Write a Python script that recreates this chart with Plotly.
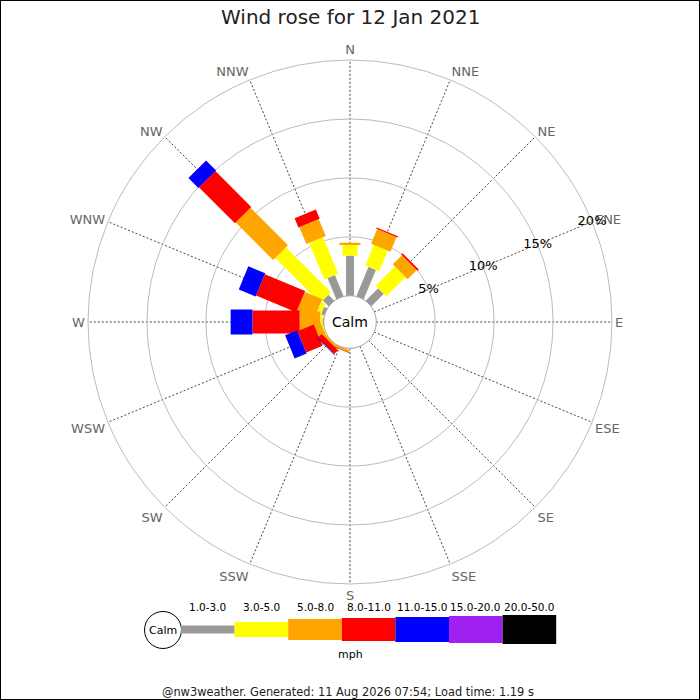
import math
import numpy as np
import plotly.graph_objects as go

# compass directions, clockwise from north
directions = ["N", "NNE", "NE", "ENE", "E", "ESE", "SE", "SSE",
              "S", "SSW", "SW", "WSW", "W", "WNW", "NW", "NNW"]
dir_angles = [i * 22.5 for i in range(16)]

speed_bins = ["1.0-3.0", "3.0-5.0", "5.0-8.0", "8.0-11.0",
              "11.0-15.0", "15.0-20.0", "20.0-50.0"]
bin_colors = ["#999999", "#ffff00", "#ffa500", "#ff0000",
              "#0000ff", "#a020f0", "#000000"]

# frequency (%) per direction for each speed bin
pct_1_3 = [3.4, 2.7, 1.5, 0, 0, 0, 0, 0, 0, 0, 0, 0, 0.1, 0.3, 0.7, 1.95]
pct_3_5 = [0.9, 1.9, 2.3, 0, 0, 0, 0, 0, 0, 0, 0, 0.1, 0.2, 0.4, 5.4, 3.35]
pct_5_8 = [0.2, 1.35, 1.1, 0, 0, 0, 0, 0, 0, 0.2, 0.2, 0.6, 1.75, 1.6, 4.5, 1.55]
pct_8_11 = [0, 0.1, 0.15, 0, 0, 0, 0, 0, 0, 0.05, 0.45, 1.5, 4.0, 3.7, 4.3, 0.85]
pct_11_15 = [0, 0, 0, 0, 0, 0, 0, 0, 0, 0, 0.05, 1.1, 1.85, 1.55, 1.2, 0]
pct_15_20 = [0] * 16
pct_20_50 = [0] * 16
all_pcts = [pct_1_3, pct_3_5, pct_5_8, pct_8_11, pct_11_15, pct_15_20, pct_20_50]

radial_ticks = [5, 10, 15, 20]
label_dir = 67.5  # radial labels sit on the ENE spoke

# leg thickness in px (rose radius is 262 px)
leg_px = [8, 15, 21, 23, 25, 27, 29]
R_PX = 262.0
HOLE = 0.1
RMAX = 20.0


def frac_from_r(r):
    return HOLE + (1 - HOLE) * r / RMAX


def r_from_frac(rho):
    return (rho - HOLE) / (1 - HOLE) * RMAX


fig = go.Figure()

# legs drawn as straight rectangles, converted into polar coords
cum = [0.0] * 16
for k, vals in enumerate(all_pcts):
    rr, tt = [], []
    half = leg_px[k] / R_PX / 2
    for i, v in enumerate(vals):
        if v <= 0:
            continue
        d0 = frac_from_r(cum[i])
        d1 = frac_from_r(cum[i] + v)
        for d, h in [(d0, -half), (d1, -half), (d1, half), (d0, half)]:
            rr.append(r_from_frac(math.hypot(d, h)))
            tt.append(dir_angles[i] + math.degrees(math.atan2(h, d)))
        rr.append(None)
        tt.append(None)
        cum[i] += v
    if rr:
        fig.add_trace(go.Scatterpolar(
            r=rr, theta=tt, mode="lines", fill="toself",
            fillcolor=bin_colors[k], line=dict(width=0, color=bin_colors[k]),
            name=speed_bins[k], hoverinfo="skip", cliponaxis=False
        ))

# calm circle outline
circ_t = np.linspace(0, 360, 181)
fig.add_trace(go.Scatterpolar(
    r=[0] * len(circ_t), theta=circ_t, mode="lines",
    line=dict(color="#aaaaaa", width=1), hoverinfo="skip", cliponaxis=False
))

# radial percentage labels centred on the spoke
fig.add_trace(go.Scatterpolar(
    r=radial_ticks, theta=[label_dir] * len(radial_ticks), mode="text",
    text=[f"{t}%" for t in radial_ticks],
    textfont=dict(size=13, color="#000000"), textposition="middle center",
    hoverinfo="skip", cliponaxis=False
))

fig.update_layout(
    width=700, height=700,
    margin=dict(l=0, r=0, t=0, b=0),
    paper_bgcolor="white",
    showlegend=False,
    font=dict(family="DejaVu Sans", color="#222222"),
    polar=dict(
        domain=dict(x=[88 / 700, 612 / 700], y=[116 / 700, 640 / 700]),
        hole=HOLE,
        bgcolor="white",
        radialaxis=dict(
            range=[0, RMAX], angle=22.5,
            tickvals=radial_ticks, showticklabels=False,
            showline=False, ticks="",
            gridcolor="#bbbbbb", gridwidth=1, layer="below traces"
        ),
        angularaxis=dict(
            rotation=90, direction="clockwise",
            tickmode="array", tickvals=dir_angles, ticktext=directions,
            tickfont=dict(size=13, color="#666666"),
            ticks="", showline=True, linecolor="#bbbbbb", linewidth=1,
            gridcolor="#444444", griddash="2px,2px", gridwidth=1,
            layer="below traces"
        ),
    ),
)


def note(text, x, y, size, color="#000000"):
    return dict(text=text, x=x / 700, y=1 - y / 700, xref="paper", yref="paper",
                xanchor="center", yanchor="middle", showarrow=False,
                font=dict(size=size, color=color))


annotations = [
    note("Wind rose for 12 Jan 2021", 350, 17, 20, "#222222"),
    note("Calm", 350, 322, 14),
    note("mph", 350, 654, 11),
    note("@nw3weather. Generated: 11 Aug 2026 07:54; Load time: 1.19 s",
         348, 692, 11.4, "#222222"),
    note("Calm", 163, 630, 11),
]

shapes = [
    # image border
    dict(type="rect", xref="paper", yref="paper", x0=0, x1=1, y0=0, y1=1,
         line=dict(color="black", width=2)),
    # legend calm circle
    dict(type="circle", xref="paper", yref="paper",
         x0=144.5 / 700, x1=181.5 / 700, y0=1 - 648.5 / 700, y1=1 - 611.5 / 700,
         line=dict(color="#000000", width=1), fillcolor="white"),
]

# legend colour bar
x_start, step, y_mid = 181.0, 53.6, 629.5
for k, label in enumerate(speed_bins):
    x0 = x_start + k * step
    h = leg_px[k]
    shapes.append(dict(
        type="rect", xref="paper", yref="paper",
        x0=x0 / 700, x1=(x0 + step) / 700,
        y0=1 - (y_mid + h / 2) / 700, y1=1 - (y_mid - h / 2) / 700,
        line=dict(width=0), fillcolor=bin_colors[k]
    ))
    annotations.append(note(label, x0 + step / 2, 607, 10.5))

fig.update_layout(annotations=annotations, shapes=shapes)

fig.write_html("out.html", config={"displayModeBar": False},
               post_script="document.body.style.margin='0px';")
